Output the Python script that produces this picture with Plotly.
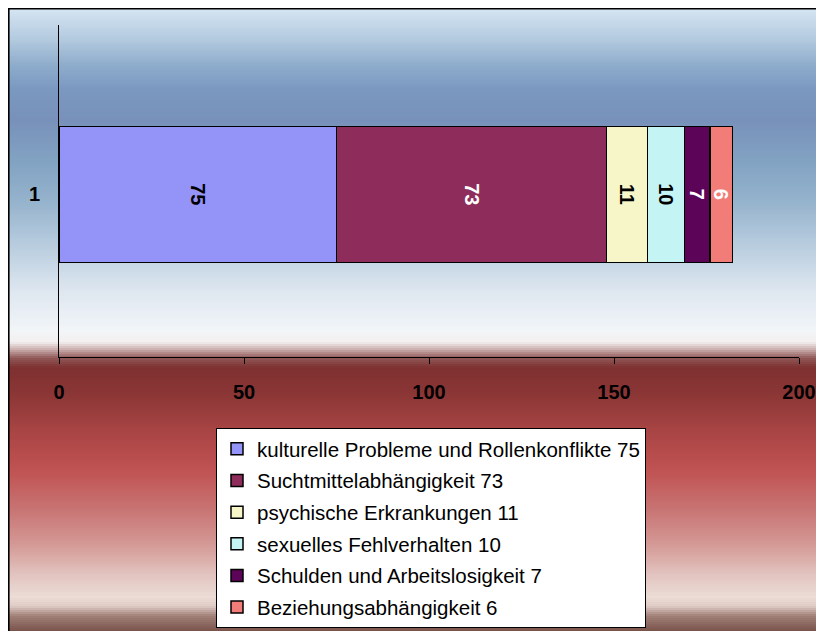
import plotly.graph_objects as go

# Data
CATEGORY = ["1"]
SERIES = [
    "kulturelle Probleme und Rollenkonflikte",
    "Suchtmittelabhängigkeit",
    "psychische Erkrankungen",
    "sexuelles Fehlverhalten",
    "Schulden und Arbeitslosigkeit",
    "Beziehungsabhängigkeit",
]
VALUES = [75, 73, 11, 10, 7, 6]
X_TICKS = [0, 50, 100, 150, 200]

COLORS = ["#9494f8", "#8e2c5c", "#f6f6c8", "#c4f4f4", "#5c0458", "#f27c78"]
LABEL_COLORS = ["black", "white", "black", "black", "white", "white"]
FONT = "Liberation Sans, Arial, sans-serif"

# the page adds an 8px body margin on every side; size the figure so the page fits the window
OFF = 8
W, H = 808, 623
L, R, T, B = 51, 17, 17, 274
PW, PH = W - L - R, H - T - B


def px_to_paper_x(px):
    # px in window pixels
    return (px - OFF - L) / PW


def px_to_paper_y(py):
    return (H - B - (py - OFF)) / PH


def hex_rgb(h):
    h = h.lstrip("#")
    return tuple(int(h[i:i + 2], 16) for i in (0, 2, 4))


# background colour stops (window pixel row, colour)
BG_STOPS = [
    (8, "#d6e6f3"), (40, "#b2c9de"), (65, "#8eaccb"), (90, "#7a98c0"),
    (120, "#7891ba"), (160, "#82a2c2"), (200, "#94b2cc"), (250, "#bccfe0"),
    (290, "#dde6ef"), (330, "#f2f5f8"), (342, "#f4f0f0"), (350, "#c8a8a8"),
    (358, "#905858"), (368, "#7e3030"), (395, "#8c3636"), (430, "#a84444"),
    (470, "#c05252"), (510, "#c87474"), (545, "#d49a96"), (575, "#e2c4c0"),
    (597, "#ecdcd6"), (606, "#e0ccc6"), (616, "#a08078"), (632, "#785048"),
]


def bg_color(py):
    for (y0, c0), (y1, c1) in zip(BG_STOPS[:-1], BG_STOPS[1:]):
        if y0 <= py <= y1:
            t = (py - y0) / (y1 - y0)
            a, b = hex_rgb(c0), hex_rgb(c1)
            return "rgb(%d,%d,%d)" % tuple(round(a[i] + (b[i] - a[i]) * t) for i in range(3))
    return BG_STOPS[-1][1]


shapes = []
step = 2
for py in range(8, 640, step):
    shapes.append(dict(
        type="rect", xref="paper", yref="paper", layer="below",
        x0=px_to_paper_x(8), x1=px_to_paper_x(830),
        y0=px_to_paper_y(py + step + 0.5), y1=px_to_paper_y(py),
        line=dict(width=0), fillcolor=bg_color(py + step / 2),
    ))
# outer chart border (only top and left are visible in the reference)
shapes.append(dict(
    type="rect", xref="paper", yref="paper", layer="below",
    x0=px_to_paper_x(8.8), x1=px_to_paper_x(850),
    y0=px_to_paper_y(660), y1=px_to_paper_y(8.8),
    line=dict(color="black", width=1.6), fillcolor="rgba(0,0,0,0)",
))

fig = go.Figure()
for i, (name, val) in enumerate(zip(SERIES, VALUES)):
    fig.add_trace(go.Bar(
        y=CATEGORY, x=[val], orientation="h",
        name=f"{name} {val}", legendgroup=name,
        marker=dict(color=COLORS[i], line=dict(color="black", width=1.5)),
        texttemplate="%{x}", textposition="inside", insidetextanchor="middle",
        textangle=90, constraintext="none",
        textfont=dict(family=FONT, size=20, color=LABEL_COLORS[i], weight="bold"),
        width=0.41,
    ))

fig.update_layout(
    width=W, height=H,
    margin=dict(l=L, r=R, t=T, b=B, autoexpand=False),
    barmode="stack",
    paper_bgcolor="white",
    plot_bgcolor="rgba(0,0,0,0)",
    font=dict(family=FONT, color="black"),
    shapes=shapes,
    showlegend=True,
    legend=dict(
        x=px_to_paper_x(216), y=px_to_paper_y(428),
        xanchor="left", yanchor="top",
        bgcolor="white", bordercolor="black", borderwidth=1,
        font=dict(family=FONT, size=20.5, color="black"),
        traceorder="grouped", tracegroupgap=2,
    ),
    xaxis=dict(
        range=[0, 200], tickvals=X_TICKS, showgrid=False, zeroline=False,
        showline=True, linecolor="black", linewidth=1,
        ticks="outside", ticklen=6, tickcolor="black",
        tickfont=dict(family=FONT, size=20, color="black", weight="bold"),
        ticklabelstandoff=11, automargin=False,
    ),
    yaxis=dict(
        type="category", range=[-0.49, 0.51], showgrid=False, zeroline=False,
        showline=True, linecolor="black", linewidth=1,
        ticks="", ticklabelstandoff=14, automargin=False,
        tickfont=dict(family=FONT, size=20, color="black", weight="bold"),
    ),
)

fig.write_html("out.html")
